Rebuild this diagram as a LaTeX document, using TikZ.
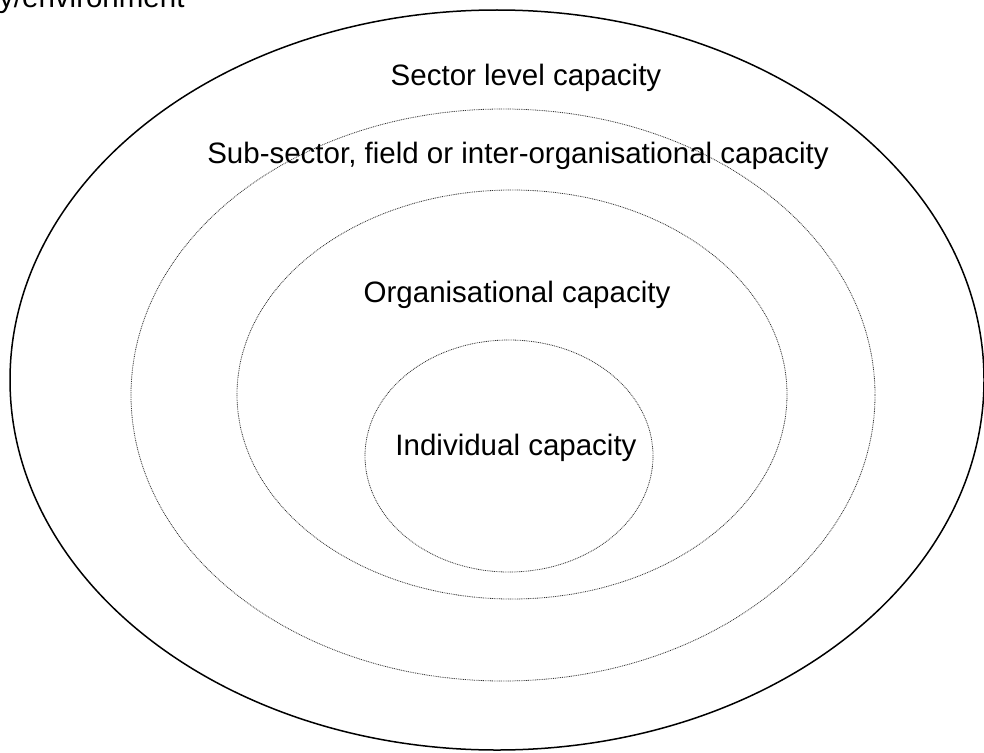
\documentclass[tikz,border=0pt]{standalone}
\usepackage{fontspec}
\setmainfont{Liberation Sans}
\begin{document}
\begin{tikzpicture}[x=1pt,y=-1pt,
  outerring/.style={draw=black,line width=1.5pt},
  innerring/.style={draw=black!80,line width=0.8pt,dash pattern=on 0.9pt off 0.9pt},
  lbl/.style={font=\fontsize{29.5}{34}\selectfont,inner sep=0pt,anchor=base}]
\useasboundingbox (0,0) rectangle (984,752);
\draw[outerring] (497,380) ellipse [x radius=487pt,y radius=370pt];
\draw[innerring] (503,395) ellipse [x radius=372pt,y radius=286pt];
\draw[innerring] (512,394.5) ellipse [x radius=275pt,y radius=204.5pt];
\draw[innerring] (509,456) ellipse [x radius=144pt,y radius=116pt];
\node[lbl,anchor=base west] (env) at (-1,8) {y/environment};
\node[lbl] (sector) at (526,85) {Sector level capacity};
\node[lbl] (subsector) at (518,163) {Sub-sector, field or inter-organisational capacity};
\node[lbl] (org) at (517,302) {Organisational capacity};
\node[lbl] (ind) at (516,455) {Individual capacity};
\end{tikzpicture}
\end{document}
